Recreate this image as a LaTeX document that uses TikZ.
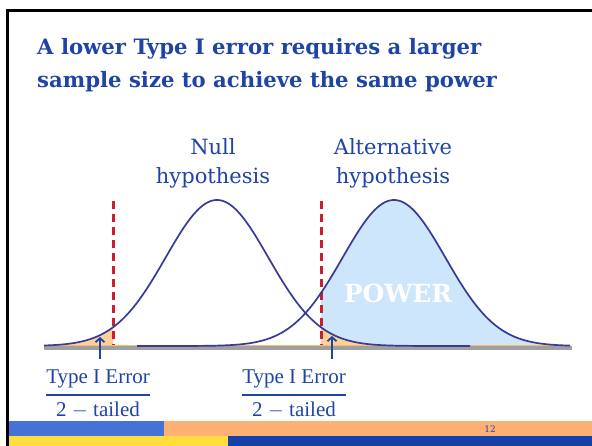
\documentclass[tikz,border=0pt]{standalone}
\usepackage{fontspec}
\usepackage{xcolor}
\usepackage{tikz}
\usetikzlibrary{positioning, arrows.meta}

\newfontfamily\georgialike{DejaVu Serif}
\newfontfamily\cambrialike{Liberation Serif}

\definecolor{titleblue}{HTML}{1F44A6}
\definecolor{curveblue}{HTML}{38399A}
\definecolor{powerfill}{HTML}{CDE6FC}
\definecolor{errfill}{HTML}{FDD29A}
\definecolor{critred}{HTML}{C8202F}
\definecolor{axisgray}{HTML}{A0A0A0}
\definecolor{footblue}{HTML}{4472D6}
\definecolor{footorange}{HTML}{FFB074}
\definecolor{footyellow}{HTML}{FFDD3C}
\definecolor{footnavy}{HTML}{1540A8}

\tikzset{
  curve/.style={draw=curveblue, line width=1.7pt},
  crit/.style={draw=critred, line width=3pt, dash pattern=on 8pt off 5pt},
  hyplabel/.style={text=titleblue, align=center, inner sep=0pt,
    font=\georgialike\fontsize{21}{29}\selectfont},
  errlabel/.style={text=titleblue, inner sep=0pt,
    font=\cambrialike\fontsize{21}{24}\selectfont},
  errarrow/.style={draw=titleblue, line width=1.8pt, -{Straight Barb[length=4pt, width=9pt]}}
}

\begin{document}
\begin{tikzpicture}[x=1pt, y=-1pt]
        \useasboundingbox[fill=white] (0,0) rectangle (592,446);

        % power and error areas
        \fill[powerfill] plot[domain=321:570, samples=120] (\x, {346-146*exp(-((\x-394)/51.3)^2/2)})
            -- (570,346) -- (321,346) -- cycle;
        \fill[errfill] (44,346) -- plot[domain=44:113, samples=40] (\x, {346-146*exp(-((\x-217)/51.3)^2/2)})
            -- (113,346) -- cycle;
        \fill[errfill] plot[domain=321:470, samples=80] (\x, {346-146*exp(-((\x-217)/51.3)^2/2)})
            -- (470,346) -- (321,346) -- cycle;

        % axis
        \draw[axisgray, line width=3.5pt] (44,348) -- (572,348);
        \draw[errfill!70!orange, line width=0.9pt] (44,345.5) -- (570,345.5);

        % critical values
        \draw[crit] (113,201) -- (113,345);
        \draw[crit] (321,201) -- (321,345);

        % the two curves
        \draw[curve] plot[domain=44:470, samples=160] (\x, {346-146*exp(-((\x-217)/51.3)^2/2)});
        \draw[curve] plot[domain=137:570, samples=160] (\x, {346-146*exp(-((\x-394)/51.3)^2/2)});

        \node[hyplabel] (null) at (213,163) {Null\\hypothesis};
        \node[hyplabel] (alt)  at (393,163) {Alternative\\hypothesis};
        \node[text=white, inner sep=0pt, font=\georgialike\bfseries\fontsize{25}{25}\selectfont] (power) at (398,293) {POWER};

        % error labels
        \node[errlabel] (ltail) at (98,394) {$\displaystyle{\mbox{Type I Error}\above 2pt \mbox{2 $-$ tailed}}$};
        \node[errlabel] (rtail) at (294,394) {$\displaystyle{\mbox{Type I Error}\above 2pt \mbox{2 $-$ tailed}}$};
        \coordinate (ltip) at (100,337);
        \coordinate (lbase) at (100,359);
        \coordinate (rtip) at (332,336);
        \coordinate (rbase) at (332,359);
        \draw[errarrow] (lbase) -- (ltip);
        \draw[errarrow] (rbase) -- (rtip);

        % title
        \node[text=titleblue, anchor=north west, inner sep=0pt, align=left,
              font=\georgialike\bfseries\fontsize{21.2}{33}\selectfont] (title) at (37,38)
            {A lower Type I error requires a larger\\sample size to achieve the same power};

        % footer bands and frame
        \fill[footblue] (7,421) rectangle (164,436);
        \fill[footorange] (164,421) rectangle (592,436);
        \fill[footyellow] (7,436) rectangle (228,446);
        \fill[footnavy] (228,436) rectangle (592,446);
        \node[text=titleblue, inner sep=0pt, font=\georgialike\fontsize{9}{9}\selectfont] (page) at (490,429) {12};
        \draw[black, line width=3pt] (7.5,446) -- (7.5,10.5) -- (592,10.5);
\end{tikzpicture}
\end{document}
